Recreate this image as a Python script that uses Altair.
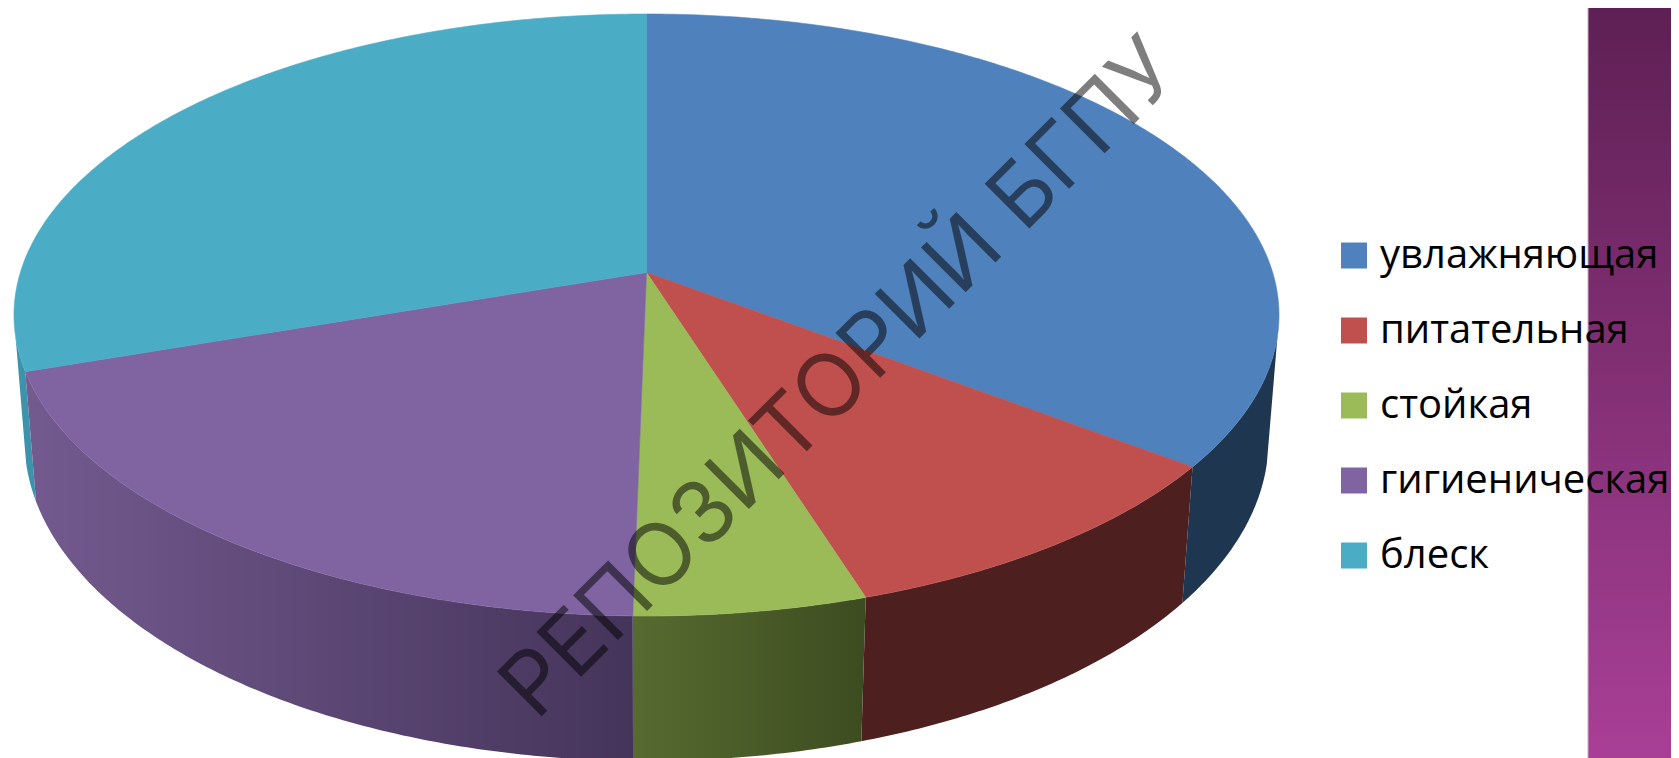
import math
import altair as alt

# ---- data ----
categories = ["увлажняющая", "питательная", "стойкая", "гигиеническая", "блеск"]
shares = [35.3, 9.8, 5.2, 19.5, 30.2]
face_colors = ["#4F81BD", "#C0504D", "#9BBB59", "#8064A2", "#4BACC6"]
watermark = ["РЕПОЗИТОРИЙ БГПУ"]

PAGE = 8
W, H = 1663, 750

# perspective geometry of the 3D pie (page pixels)
TOP = dict(cx=646.5, cy=315.0, a=632.5, b=301.0, v0=-0.1412)
BOT = dict(cx=646.5, cy=440.0, a=622.0, b=321.0, v0=-0.1374)
APEX = (646.5, 272.5)


def rim(deg, g):
    t = math.radians(deg)
    u, v = math.sin(t), -math.cos(t)
    k = 1 + g["v0"] * v
    return [g["cx"] + g["a"] * u * math.sqrt(1 - g["v0"] ** 2) / k,
            g["cy"] + g["b"] * (v + g["v0"]) / k]


def arc(a0, a1, g):
    n = max(2, int(abs(a1 - a0) * 2))
    return [rim(a0 + (a1 - a0) * i / n, g) for i in range(n + 1)]


def feature(ring, **props):
    return {"type": "Feature", "properties": props,
            "geometry": {"type": "Polygon", "coordinates": [ring + [ring[0]]]}}


edges = [0.0]
for s in shares:
    edges.append(edges[-1] + s * 3.6 * 100 / sum(shares))

faces = [feature([list(APEX)] + arc(edges[i], edges[i + 1], TOP), name=categories[i])
         for i in range(len(categories))]


def wall(a0, a1):
    return [feature(arc(a0, a1, TOP) + arc(a1, a0, BOT), name="wall")]


def project(c):
    return c.project(type="identity", scale=1, translate=[-PAGE, -PAGE])


def hgrad(left, right):
    return alt.Gradient(gradient="linear", x1=0, x2=1, y1=0, y2=0,
                        stops=[alt.GradientStop(offset=0, color=left),
                               alt.GradientStop(offset=1, color=right)])


def wall_layer(a0, a1, fill):
    return project(alt.Chart(alt.Data(values=wall(a0, a1))).mark_geoshape(
        fill=fill, strokeWidth=0))


one = alt.Data(values=[{"k": 1}])

band = alt.Chart(one).mark_rect(
    fill=alt.Gradient(gradient="linear", x1=0, x2=0, y1=0, y2=1,
                      stops=[alt.GradientStop(offset=0, color="#5E2054"),
                             alt.GradientStop(offset=1, color="#A83F96")])
).encode(x=alt.value(1588 - PAGE), x2=alt.value(W), y=alt.value(0), y2=alt.value(H))

band_edge = alt.Chart(one).mark_rule(color="#C9A9C6", strokeWidth=1).encode(
    x=alt.value(1588 - PAGE), y=alt.value(0), y2=alt.value(H))

walls = [
    wall_layer(edges[4], 258.0, "#3C93AB"),
    wall_layer(102.0, edges[1], "#1F3650"),
    wall_layer(edges[1], edges[2], "#4D1F1E"),
    wall_layer(edges[2], edges[3], hgrad("#566B30", "#3D4C20")),
    wall_layer(edges[3], edges[4], hgrad("#735A8F", "#45345A")),
]

top_scale = alt.Scale(domain=categories, range=face_colors)

top = project(alt.Chart(alt.Data(values=faces)).mark_geoshape(strokeWidth=0.6).encode(
    color=alt.Color(
        "properties.name:N",
        scale=top_scale,
        sort=None,
        legend=alt.Legend(
            title=None, orient="none", legendX=1334 - PAGE, legendY=235.5 - PAGE,
            symbolType="square", symbolSize=676, symbolStrokeWidth=0,
            labelFont="Open Sans", labelFontSize=40, labelColor="#000000",
            labelLimit=0, labelOffset=6, rowPadding=35, symbolOpacity=1,
        ),
    ),
    stroke=alt.Stroke("properties.name:N", scale=top_scale, sort=None, legend=None),
))

mark = alt.Chart(alt.Data(values=[{"t": w} for w in watermark])).mark_text(
    font="Inter", fontSize=87, angle=315, align="center", baseline="alphabetic",
    color="#000000", opacity=0.5,
).encode(x=alt.value(860 - PAGE), y=alt.value(398 - PAGE), text="t:N")

chart = alt.layer(band, band_edge, *walls, top, mark).properties(
    width=W, height=H, padding=0,
    autosize=alt.AutoSizeParams(type="none"),
).configure_view(stroke=None)

chart.save("out.html", embed_options={"renderer": "svg", "actions": False})
